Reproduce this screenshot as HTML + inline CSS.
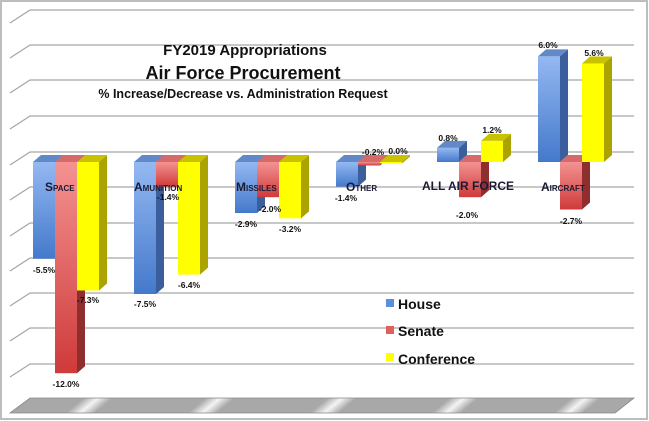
<!DOCTYPE html>
<html><head><meta charset="utf-8"><style>
html,body{margin:0;padding:0;background:#fff;}
svg{display:block;font-family:"Liberation Sans",Arial,sans-serif;}
</style></head><body>
<svg width="649" height="421" viewBox="0 0 649 421" xmlns="http://www.w3.org/2000/svg">
<defs>
<linearGradient id="bf" x1="0" y1="0" x2="0" y2="1"><stop offset="0" stop-color="#94b8f2"/><stop offset="1" stop-color="#4479cb"/></linearGradient>
<linearGradient id="rf" x1="0" y1="0" x2="0" y2="1"><stop offset="0" stop-color="#f49292"/><stop offset="1" stop-color="#cf3a3a"/></linearGradient>
<linearGradient id="fl" gradientUnits="userSpaceOnUse" x1="0" y1="0" x2="50" y2="60" spreadMethod="repeat">
<stop offset="0" stop-color="#a8a8a8"/><stop offset="0.6" stop-color="#a8a8a8"/><stop offset="0.72" stop-color="#f4f4f4"/><stop offset="0.84" stop-color="#a8a8a8"/><stop offset="1" stop-color="#a8a8a8"/></linearGradient>
</defs>
<rect x="1" y="1" width="646" height="418" fill="#fff" stroke="#bdbdbd" stroke-width="2"/>
<g stroke="#a6a6a6" stroke-width="1.2" fill="none">
<path d="M10,23 L30,10 H634"/><path d="M10,58 L30,45 H634"/><path d="M10,93 L30,80 H634"/><path d="M10,129 L30,116 H634"/><path d="M10,165 L30,152 H634"/><path d="M10,200 L30,187 H634"/><path d="M10,236 L30,223 H634"/><path d="M10,271 L30,258 H634"/><path d="M10,306 L30,293 H634"/><path d="M10,341 L30,328 H634"/><path d="M10,377 L30,364 H634"/>
</g>
<polygon points="30,398 634,398 615,413 10,413" fill="url(#fl)" stroke="#888" stroke-width="0.8"/>
<g text-anchor="middle" font-weight="bold" fill="#111">
<text x="245" y="55" font-size="15">FY2019 Appropriations</text>
<text x="243" y="79" font-size="18">Air Force Procurement</text>
<text x="243" y="98" font-size="12.5">% Increase/Decrease vs. Administration Request</text>
</g>
<g id="bars"></g>
<g font-size="8.5" font-weight="bold" text-anchor="middle" fill="#111" id="vals"></g>
<g font-weight="bold" font-size="12" fill="#1a1a33" style="font-variant:small-caps">
<text x="45" y="191">Space</text><text x="134" y="191">Amunition</text><text x="236" y="191">Missiles</text><text x="346" y="191">Other</text><text x="422" y="190">ALL AIR FORCE</text><text x="541" y="191">Aircraft</text>
</g>
<g font-weight="bold" font-size="14" fill="#111">
<rect x="386" y="299" width="8" height="8" fill="#5b8fdc"/><text x="398" y="309">House</text>
<rect x="386" y="326" width="8" height="8" fill="#e06060"/><text x="398" y="336">Senate</text>
<rect x="386" y="353" width="8" height="8" fill="#ffff00"/><text x="398" y="364">Conference</text>
</g>
<script>
var vals=[[-5.5,-12,-7.3],[-7.5,-1.4,-6.4],[-2.9,-2.0,-3.2],[-1.4,-0.2,0.0],[0.8,-2.0,1.2],[6.0,-2.7,5.6]];
var fills=[["url(#bf)","#6189c8","#3b5f9c"],["url(#rf)","#d66a6a","#8e2e2e"],["#ffff00","#c9c200","#aaa300"]];
var ns="http://www.w3.org/2000/svg",g=document.getElementById("bars"),vg=document.getElementById("vals");
function el(t,a,p){var e=document.createElementNS(ns,t);for(var k in a)e.setAttribute(k,a[k]);p.appendChild(e);return e;}
var Z=162,S=17.6,W=22,dx=8,dy=-7;
for(var i=0;i<6;i++)for(var j=0;j<3;j++){
 var v=vals[i][j],x=33+101*i+22*j,yv=Z-S*v,yt=Math.min(Z,yv),yb=Math.max(Z,yv);if(yb-yt<1.5)yb=yt+1.5;
 el("polygon",{points:[x,yt,x+dx,yt+dy,x+W+dx,yt+dy,x+W,yt].join(" "),fill:fills[j][1]},g);
 el("polygon",{points:[x+W,yt,x+W+dx,yt+dy,x+W+dx,yb+dy,x+W,yb].join(" "),fill:fills[j][2]},g);
 el("rect",{x:x,y:yt,width:W,height:yb-yt,fill:fills[j][0]},g);
}
var L=[[44,273,"-5.5%"],[66,387,"-12.0%"],[88,303,"-7.3%"],[145,307,"-7.5%"],[168,200,"-1.4%"],[189,288,"-6.4%"],[246,227,"-2.9%"],[270,212,"-2.0%"],[290,232,"-3.2%"],[346,201,"-1.4%"],[373,155,"-0.2%"],[398,154,"0.0%"],[448,141,"0.8%"],[467,218,"-2.0%"],[492,133,"1.2%"],[548,48,"6.0%"],[571,224,"-2.7%"],[594,56,"5.6%"]];
L.forEach(function(a){var t=el("text",{x:a[0],y:a[1]},vg);t.textContent=a[2];});
</script>
</svg>
</body></html>
